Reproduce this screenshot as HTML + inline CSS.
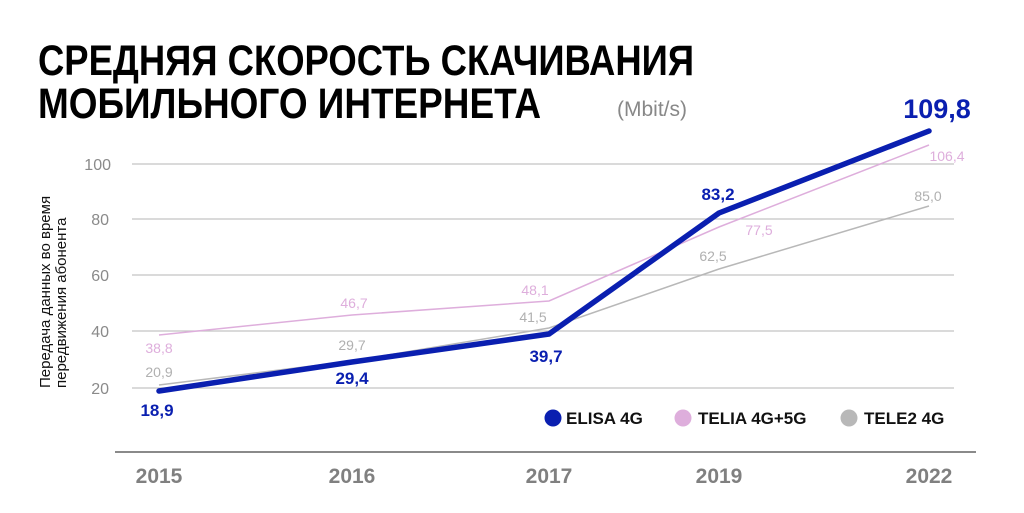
<!DOCTYPE html>
<html><head><meta charset="utf-8"><style>
html,body{margin:0;padding:0;background:#fff;}
svg{display:block;font-family:"Liberation Sans","DejaVu Sans",sans-serif;}
</style></head><body>
<svg width="1024" height="513" viewBox="0 0 1024 513" xmlns="http://www.w3.org/2000/svg">
<rect width="1024" height="513" fill="#fff"/>
<text x="38" y="75" font-size="43" font-weight="bold" fill="#000" textLength="656" lengthAdjust="spacingAndGlyphs">СРЕДНЯЯ СКОРОСТЬ СКАЧИВАНИЯ</text>
<text x="38" y="118" font-size="43" font-weight="bold" fill="#000" textLength="503" lengthAdjust="spacingAndGlyphs">МОБИЛЬНОГО ИНТЕРНЕТА</text>
<text x="617" y="116" font-size="21" fill="#888">(Mbit/s)</text>
<g stroke="#c4c4c4" stroke-width="1.2">
<line x1="132" y1="164" x2="954" y2="164"/>
<line x1="132" y1="219" x2="954" y2="219"/>
<line x1="132" y1="275" x2="954" y2="275"/>
<line x1="132" y1="331" x2="954" y2="331"/>
<line x1="132" y1="388" x2="954" y2="388"/>
</g>
<line x1="115" y1="452" x2="976" y2="452" stroke="#8a8a8a" stroke-width="2"/>
<g font-size="16" fill="#8a8a8a" text-anchor="end">
<text x="111" y="170">100</text><text x="109" y="225">80</text><text x="109" y="281">60</text><text x="109" y="337">40</text><text x="109" y="394">20</text>
</g>
<g transform="translate(50,388) rotate(-90)" font-size="15" fill="#111">
<text x="0" y="0">Передача данных во время</text>
<text x="0" y="16">передвижения абонента</text>
</g>
<g font-size="21" font-weight="bold" fill="#808080" text-anchor="middle">
<text x="159" y="483">2015</text><text x="352" y="483">2016</text><text x="549" y="483">2017</text><text x="719" y="483">2019</text><text x="929" y="483">2022</text>
</g>
<polyline points="159,385 352,361 549,328 719,269 929,206" fill="none" stroke="#b8b8b8" stroke-width="1.5"/>
<polyline points="159,335 352,315 549,301 719,227 929,145" fill="none" stroke="#deaedc" stroke-width="1.5"/>
<polyline points="159,391 352,362 549,334 719,213 929,131" fill="none" stroke="#0a1fb0" stroke-width="5.5" stroke-linecap="round" stroke-linejoin="round"/>
<g font-size="14" fill="#b0b0b0" text-anchor="middle">
<text x="159" y="377">20,9</text><text x="352" y="350">29,7</text><text x="533" y="322">41,5</text><text x="713" y="261">62,5</text><text x="928" y="201">85,0</text>
</g>
<g font-size="14" fill="#deaedc" text-anchor="middle">
<text x="159" y="353">38,8</text><text x="354" y="308">46,7</text><text x="535" y="295">48,1</text><text x="759" y="235">77,5</text><text x="947" y="161">106,4</text>
</g>
<g font-size="17" font-weight="bold" fill="#0a1fb0" text-anchor="middle">
<text x="157" y="416">18,9</text><text x="352" y="384">29,4</text><text x="546" y="362">39,7</text><text x="718" y="200">83,2</text>
<text x="937" y="118" font-size="27">109,8</text>
</g>
<g font-size="17" font-weight="bold" fill="#111">
<circle cx="553" cy="418" r="8.5" fill="#0a1fb0"/><text x="566" y="424">ELISA 4G</text>
<circle cx="683" cy="418" r="8.5" fill="#deaedc"/><text x="698" y="424">TELIA 4G+5G</text>
<circle cx="849" cy="418" r="8.5" fill="#b8b8b8"/><text x="864" y="424">TELE2 4G</text>
</g>
</svg>
</body></html>
